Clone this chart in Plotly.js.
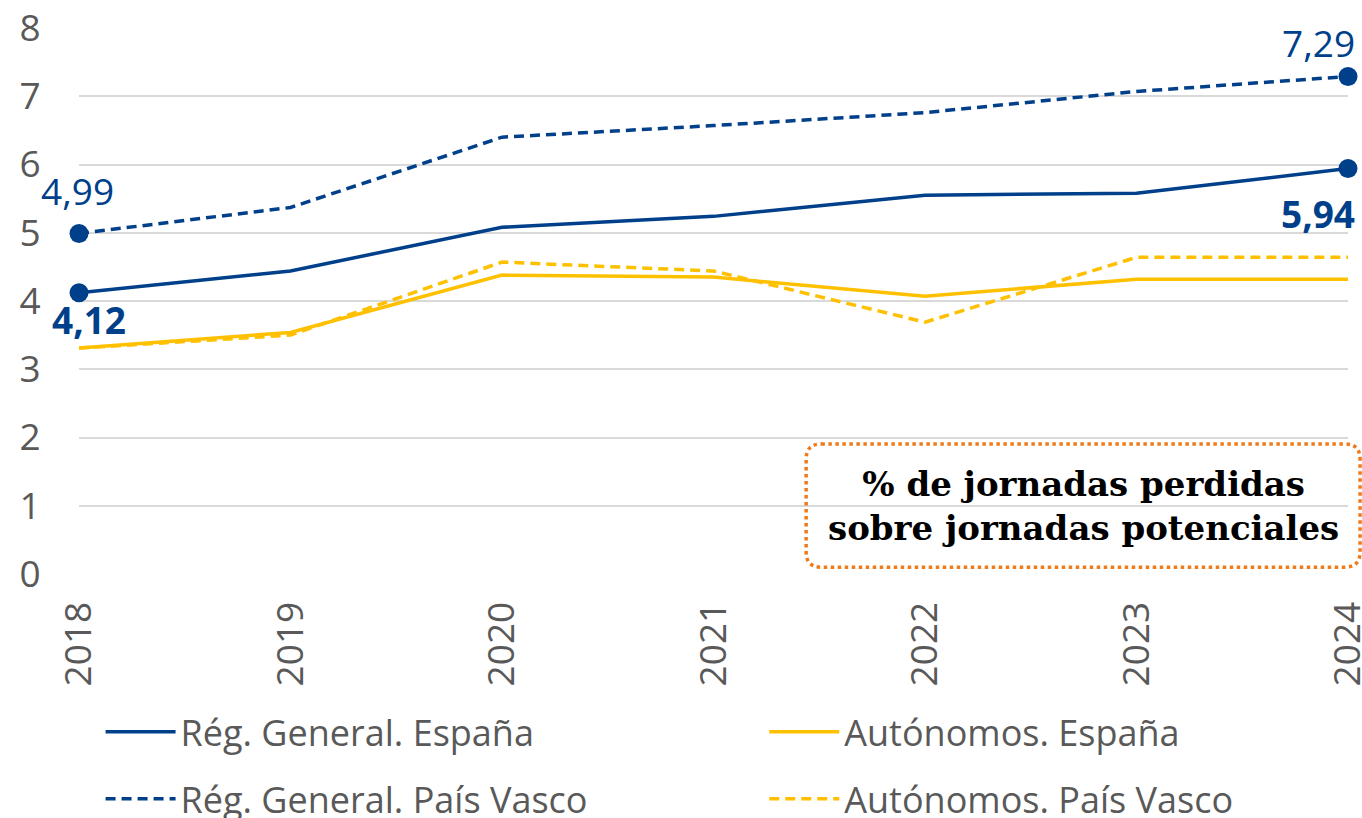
<!DOCTYPE html>
<html>
<head>
<meta charset="utf-8">
<script src="https://cdn.plot.ly/plotly-3.0.1.min.js"></script>
<style>html,body{margin:0;padding:0;background:#fff;}#chart{width:1362px;height:818px;}</style>
</head>
<body>
<div id="chart"></div>
<script>
const years = ['2018','2019','2020','2021','2022','2023','2024'];
const regGeneralEspana = [4.12, 4.44, 5.08, 5.24, 5.55, 5.58, 5.94];
const regGeneralPaisVasco = [4.99, 5.37, 6.40, 6.57, 6.76, 7.07, 7.29];
const autonomosEspana = [3.31, 3.54, 4.38, 4.35, 4.07, 4.32, 4.32];
const autonomosPaisVasco = [3.31, 3.50, 4.57, 4.44, 3.69, 4.64, 4.64];
const seriesNames = ['Rég. General. España', 'Autónomos. España', 'Rég. General. País Vasco', 'Autónomos. País Vasco'];
const yTicks = [0,1,2,3,4,5,6,7,8];
const boxText = '% de jornadas perdidas<br>sobre jornadas potenciales';

const BLUE = '#003F8A';
const YELLOW = '#FFC000';
const GREY = '#595959';
const FONT = 'Open Sans, sans-serif';

const fmt = v => v.toFixed(2).replace('.', ',');
const last = years.length - 1;

const traces = [
  {x: years, y: regGeneralEspana, name: seriesNames[0], mode: 'lines', legend: 'legend',
   line: {color: BLUE, width: 3.5}},
  {x: years, y: autonomosEspana, name: seriesNames[1], mode: 'lines', legend: 'legend2',
   line: {color: YELLOW, width: 3.5}},
  {x: years, y: regGeneralPaisVasco, name: seriesNames[2], mode: 'lines', legend: 'legend3',
   line: {color: BLUE, width: 3.5, dash: '10px,6px'}},
  {x: years, y: autonomosPaisVasco, name: seriesNames[3], mode: 'lines', legend: 'legend4',
   line: {color: YELLOW, width: 3.5, dash: '10px,6px'}},
  {x: [years[0], years[last], years[0], years[last]],
   y: [regGeneralEspana[0], regGeneralEspana[last], regGeneralPaisVasco[0], regGeneralPaisVasco[last]],
   mode: 'markers', showlegend: false, cliponaxis: false,
   marker: {color: BLUE, size: 19}}
];

// rounded dotted box path in (paper x, data y)
const bx0 = 0.573, bx1 = 1.0095, by0 = 0.10, by1 = 1.905, rx = 0.012, ry = 0.22;
const boxPath = `M ${bx0+rx},${by1} L ${bx1-rx},${by1} Q ${bx1},${by1} ${bx1},${by1-ry} L ${bx1},${by0+ry} Q ${bx1},${by0} ${bx1-rx},${by0} L ${bx0+rx},${by0} Q ${bx0},${by0} ${bx0},${by0+ry} L ${bx0},${by1-ry} Q ${bx0},${by1} ${bx0+rx},${by1} Z`;

function leg(x, y) {
  return {orientation: 'v', x: x, xanchor: 'left', y: y, yanchor: 'middle', itemwidth: 70,
    font: {family: FONT, size: 36, color: GREY}, bgcolor: 'rgba(0,0,0,0)'};
}

const layout = {
  width: 1362, height: 818,
  margin: {l: 79, r: 14, t: 28, b: 244, autoexpand: false},
  paper_bgcolor: '#fff', plot_bgcolor: '#fff',
  font: {family: FONT, color: GREY, size: 36},
  showlegend: true,
  xaxis: {
    type: 'category', range: [0, years.length - 1],
    showgrid: false, zeroline: false, showline: false,
    ticks: 'outside', ticklen: 12, tickcolor: 'rgba(0,0,0,0)',
    tickangle: -90, tickfont: {family: FONT, size: 37, color: GREY}
  },
  yaxis: {
    range: [0, 8], tickvals: yTicks, ticktext: yTicks.map(String),
    showgrid: true, gridcolor: '#D9D9D9', gridwidth: 2,
    zeroline: false, showline: false,
    ticks: 'outside', ticklen: 30, tickcolor: 'rgba(0,0,0,0)',
    tickfont: {family: FONT, size: 37, color: GREY}
  },
  legend: leg(0.017, -0.289),
  legend2: leg(0.540, -0.289),
  legend3: leg(0.017, -0.412),
  legend4: leg(0.540, -0.412),
  shapes: [
    {type: 'path', xref: 'paper', yref: 'y', path: boxPath,
     line: {color: '#F07A1A', width: 3.5, dash: 'dot'}, fillcolor: 'rgba(255,255,255,0)'}
  ],
  annotations: [
    {x: 0, y: regGeneralPaisVasco[0], text: fmt(regGeneralPaisVasco[0]), showarrow: false,
     xanchor: 'center', yanchor: 'middle',
     yshift: 43, xshift: -2, font: {family: FONT, size: 37, color: BLUE}},
    {x: 0, y: regGeneralEspana[0], text: '<b>' + fmt(regGeneralEspana[0]) + '</b>', showarrow: false,
     xanchor: 'center', yanchor: 'middle',
     yshift: -27, xshift: 10, font: {family: FONT, size: 37, color: BLUE}},
    {x: last, y: regGeneralPaisVasco[last], text: fmt(regGeneralPaisVasco[last]), showarrow: false,
     xanchor: 'center', yanchor: 'middle',
     yshift: 34, xshift: -30, font: {family: FONT, size: 37, color: BLUE}},
    {x: last, y: regGeneralEspana[last], text: '<b>' + fmt(regGeneralEspana[last]) + '</b>', showarrow: false,
     xanchor: 'center', yanchor: 'middle',
     yshift: -45, xshift: -30, font: {family: FONT, size: 37, color: BLUE}},
    {xref: 'paper', yref: 'y', x: (bx0 + bx1) / 2, y: (by0 + by1) / 2, text: '<b>' + boxText + '</b>',
     showarrow: false, align: 'center', xanchor: 'center', yanchor: 'middle',
     font: {family: 'DejaVu Serif, serif', size: 34, color: '#000'}}
  ]
};

Plotly.newPlot('chart', traces, layout, {displayModeBar: false, staticPlot: true});
</script>
</body>
</html>
